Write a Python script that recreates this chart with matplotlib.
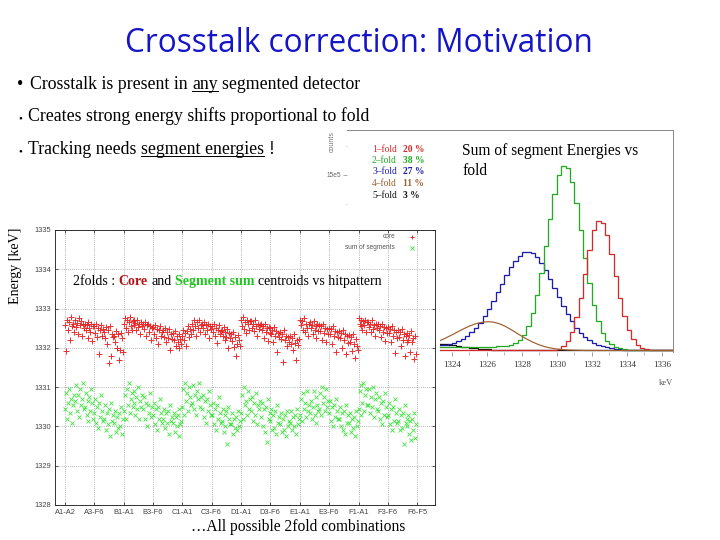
import numpy as np
import matplotlib
matplotlib.use("Agg")
import matplotlib.pyplot as plt
from matplotlib.patches import Rectangle
from matplotlib.lines import Line2D
from matplotlib.ticker import FixedLocator, MultipleLocator

# ---------------- data: histogram (sum of segment energies per fold) ----------------
bin_width = 0.25  # keV
fold_labels = ["1\u2013fold", "2\u2013fold", "3\u2013fold", "4\u2013fold", "5\u2013fold"]
fold_pct = ["20 %", "38 %", "27 %", "11 %", "3 %"]
fold_colors = ["#d42a2a", "#22aa22", "#1c1ca8", "#a0602e", "#111111"]
fold_start = [1329.0, 1323.0, 1320.0, 1320.0, 1318.5]   # lower edge of first listed bin (keV)
fold1_k = [0.02, 0.07, 0.2, 0.6, 1.6, 3.9, 8.3, 16.0, 28.3, 45.2, 65.5, 86.1, 102.7, 111.0,
           109.3, 99.0, 82.5, 63.3, 44.8, 29.2, 17.5, 9.6, 4.9, 2.3, 1.0, 0.4, 0.15]
fold2_k = [2.6, 2.8, 2.9, 3.0, 3.2, 3.3, 3.3, 3.4, 3.4, 3.4, 3.4, 3.4, 3.4, 3.4, 3.5, 3.6,
           4.0, 4.7, 6.1, 8.8, 13.5, 21.0, 32.0, 47.0, 66.5, 89.0, 112.5, 134.0, 150.0, 157.5,
           155.6, 144.4, 125.8, 103.0, 79.2, 57.3, 38.9, 24.8, 14.8, 8.4, 5.2, 3.0, 1.8, 1.1,
           0.8, 0.6, 0.4, 0.3, 0.2]
fold3_k = [1.2, 1.4, 1.6, 1.8, 2.0, 2.2, 2.4, 2.6, 2.8, 3.0, 3.2, 3.4, 3.9, 4.3, 4.9, 5.6,
           6.6, 8.0, 9.8, 12.3, 15.4, 19.2, 23.8, 29.3, 35.5, 42.4, 49.8, 57.2, 64.5, 71.2,
           76.8, 81.1, 83.8, 84.5, 83.3, 80.1, 75.1, 68.8, 61.5, 53.7, 45.7, 38.0, 31.0, 24.8,
           19.5, 15.0, 11.5, 8.8, 6.6, 5.0, 3.8, 2.9, 2.1, 1.5, 1.0, 0.6, 0.3, 0.1]
fold4_k = [0.17, 0.27, 0.39, 0.56, 0.8, 1.1, 1.5, 2.1, 2.8, 3.6, 4.6, 5.8, 7.2, 8.8, 10.5,
           12.4, 14.3, 16.3, 18.2, 20.0, 21.6, 22.9, 23.8, 24.4, 24.6, 24.2, 23.3, 21.9, 20.0,
           17.9, 15.6, 13.3, 11.0, 9.0, 7.1, 5.5, 4.1, 3.0, 2.2, 1.5, 1.0, 0.7, 0.45, 0.3,
           0.2, 0.1]
fold5_k = [1.8, 2.2, 2.7, 3.2, 3.7, 4.3, 4.8, 5.4, 5.9, 6.4, 6.8, 7.1, 7.4, 7.5, 7.5, 7.4,
           7.1, 6.8, 6.4, 5.9, 5.4, 4.8, 4.3, 3.7, 3.2, 2.7, 2.2, 1.8, 1.4, 1.1, 0.9, 0.7,
           0.5, 0.4, 0.3, 0.2, 0.1]
fold_counts_k = [fold1_k, fold2_k, fold3_k, fold4_k, fold5_k]
hist_xticks = [1318, 1320, 1322, 1324, 1326, 1328, 1330, 1332, 1334, 1336]

# ---------------- data: 2-fold centroids vs hit pattern ----------------
pair_ticks = [0, 104, 210, 314, 420, 524, 630, 734, 840, 944, 1050, 1154, 1259]
pair_labels = ["A1-A2", "A3-F6", "B1-A1", "B3-F6", "C1-A1", "C3-F6", "D1-A1",
               "D3-F6", "E1-A1", "E3-F6", "F1-A1", "F3-F6", "F6-F5"]
n_pairs = 1260
# core centroid: 1332 keV + value/100
core_hundredths = [
    58, -8, 72, 45, 65, 20, 78, 55, 62, 40,   70, 52, 64, 35, 75, 58, 68, 30, 60, 50,
    62, 45, 58, 25, 66, 50, 40, 60, 18, 55,   55, 38, 60, 28, 50, -15, 45, 58, 30, 48,
    40, 25, 52, 10, 45, -38, 55, -20, 35, 28, 30, 15, 42, 0, 35, -32, -5, 38, 25, -10,
    62, 75, 50, 70, 40, 66, 78, 55, 45, 68,   70, 58, 64, 45, 72, 52, 60, 35, 66, 55,
    60, 48, 65, 30, 58, 62, 40, 55, 20, 50,   52, 35, 58, 25, 48, 10, 45, 55, 30, 40,
    45, 28, 50, 15, 40, 25, 48, -5, 35, 22,   38, 20, 42, 5, 30, 15, 0, 35, 22, 10,
    30, 45, 20, 38, 5, 42, 55, 28, 48, 35,    62, 45, 70, 55, 30, 65, 50, 72, 40, 58,
    60, 50, 66, 35, 58, 45, 62, 25, 55, 48,   55, 40, 62, 30, 50, 12, 45, 58, 35, 42,
    45, 30, 52, 20, 40, 28, 48, 0, 38, 25,    35, 18, 40, 2, 28, -20, 10, 32, 20, 5,
    70, 55, 78, 48, 65, 38, 72, 60, 45, 68,   68, 50, 62, 42, 70, 55, 30, 60, 48, 58,
    60, 45, 55, 25, 62, 40, 50, 18, 52, 38,   50, 35, 45, 15, 52, 30, 42, -10, 38, 28,
    40, 22, 35, -35, 45, 20, 30, 5, 28, 15,   30, 10, 25, -5, 35, 12, -32, 20, 8, 22,
    72, 58, 68, 45, 75, 40, 62, 50, 30, 60,   65, 50, 58, 35, 68, 45, 55, 25, 60, 42,
    58, 42, 55, 20, 62, 38, 50, 15, 48, 35,   50, 35, 48, 10, 55, 30, 42, -10, 40, 28,
    42, 25, 38, 0, 45, 20, 35, -15, 30, 12,   32, 15, 28, -8, 35, 10, -25, 22, 5, -5,
    75, 62, 70, 55, 45, 68, 58, 72, 40, 65,   66, 52, 60, 40, 70, 48, 58, 30, 62, 50,
    60, 45, 55, 28, 62, 40, 52, 18, 50, 38,   52, 38, 48, 15, 55, 30, 45, -12, 40, 25,
    45, 28, 40, 5, 48, 20, 35, -20, 30, 15,   38, 20, 32, -10, 42, 15, 25, -28, 30, -15,
]
# sum of segments centroid: 1330 keV + value/100
sum_hundredths = [
    45, 85, 20, 60, 95, 35, 70, 10, 55, 80,   65, 105, 40, 80, 25, 95, 55, 70, 110, 45,
    50, 85, 30, 65, 15, 75, 40, 95, 60, 20,   35, 70, 10, 50, -5, 60, 25, 80, 40, 15,
    20, 55, -10, 35, 5, 45, -25, 60, 15, 30,  10, 40, -15, 25, -5, 35, 0, 50, -20, 20,
    40, 80, 20, 95, 55, 110, 35, 70, 85, 50,  60, 90, 30, 75, 45, 100, 20, 65, 50, 80,
    45, 75, 20, 60, 0, 55, 35, 85, 25, 50,    30, 60, 5, 45, -10, 50, 20, 70, 35, 10,
    20, 45, -5, 35, 10, 40, -20, 55, 15, 25,  10, 35, -15, 25, 0, 30, -25, 45, 5, 15,
    50, 95, 30, 110, 65, 85, 40, 100, 75, 55, 60, 105, 45, 80, 30, 90, 70, 110, 50, 75,
    45, 80, 25, 65, 10, 70, 40, 90, 55, 30,   30, 60, 5, 45, -10, 55, 20, 75, 35, 10,
    15, 45, -15, 30, 0, 40, -45, 50, 20, 5,   5, 35, -20, 20, -5, 25, -10, 40, 0, 15,
    35, 80, 20, 100, 55, 65, 30, 90, 45, 70,  40, 75, 15, 60, 30, 85, 5, 55, 45, 65,
    25, 60, 0, 45, -15, 50, -40, 70, 20, 35,  15, 45, -10, 30, -5, 40, -20, 55, 10, 25,
    5, 35, -15, 20, -8, 30, -25, 40, 0, 15,   10, 40, -10, 25, 0, 30, -20, 45, 5, 20,
    30, 70, 15, 85, 45, 60, 25, 90, 40, 55,   35, 65, 20, 50, 90, 30, 75, 10, 55, 40,
    45, 85, 30, 100, 60, 75, 40, 95, 50, 65,  35, 65, 15, 50, 0, 55, 25, 70, 40, 20,
    20, 50, 0, 35, -10, 40, -20, 55, 10, 30,  10, 35, -15, 20, -5, 25, -25, 40, 0, 15,
    45, 90, 30, 105, 60, 110, 40, 80, 95, 55, 55, 95, 35, 75, 50, 100, 25, 70, 85, 45,
    40, 75, 20, 60, 5, 65, 30, 85, 50, 25,    30, 60, 5, 45, -10, 50, 15, 70, 35, 10,
    15, 45, -10, 30, -5, 35, -45, 55, 10, 20, 0, 30, -20, 15, -35, 20, -10, 35, -30, 5,
]

title = "Crosstalk correction: Motivation"

# ---------------- figure ----------------
W, H = 720, 540
fig = plt.figure(figsize=(W / 72, H / 72), dpi=72)
fig.patch.set_facecolor("white")
SERIF = "Liberation Serif"
SANS = "Liberation Sans"


def fx(px):
    return px / W


def fy(py):
    return 1 - py / H


renderer = fig.canvas.get_renderer()


def write_runs(x_px, y_px, parts, size, family=SERIF, zorder=5):
    """Write word runs left to right, separated by one space; optional underline."""
    probe1 = fig.text(0, 0, "x x", fontsize=size, family=family)
    probe2 = fig.text(0, 0, "xx", fontsize=size, family=family)
    sp = probe1.get_window_extent(renderer).width - probe2.get_window_extent(renderer).width
    probe1.remove(); probe2.remove()
    x = x_px
    for text, kw in parts:
        kw = dict(kw)
        ul = kw.pop("underline", False)
        t = fig.text(fx(x), fy(y_px), text, fontsize=size, family=family,
                     va="baseline", ha="left", zorder=zorder, **kw)
        bb = t.get_window_extent(renderer)
        if ul:
            uy = fy(y_px + size * 0.12)
            fig.add_artist(Line2D([bb.x0 / W, bb.x1 / W], [uy, uy],
                                  color=kw.get("color", "black"), lw=1.0, zorder=zorder))
        x += bb.width + sp


# title
fig.text(fx(359), fy(52), title, fontsize=31.5, family="Open Sans", color="#1414c8",
         ha="center", va="baseline")

# bullets
fig.text(fx(17), fy(89), "\u2022", fontsize=18, family=SERIF, va="baseline")
write_runs(30, 89, [("Crosstalk is present in", {}), ("any", {"underline": True}),
                    ("segmented detector", {})], 17.8)
fig.text(fx(18), fy(121), "\u2022", fontsize=11, family=SERIF, va="baseline")
write_runs(28, 121, [("Creates strong energy shifts proportional to fold", {})], 17.8)
fig.text(fx(18), fy(154), "\u2022", fontsize=11, family=SERIF, va="baseline")
write_runs(28, 154, [("Tracking needs", {}), ("segment energies", {"underline": True}),
                     ("!", {})], 17.8)

# ---------------- histogram panel ----------------
ax1 = fig.add_axes([fx(347), fy(352), (673 - 347) / W, (352 - 130) / H])
ax1.set_zorder(1)
lo, hi = 1318.5, 1336.75
nb = int(round((hi - lo) / bin_width))
edges = lo + bin_width * np.arange(nb + 1)
order = [4, 3, 2, 1, 0]
for i in order:
    vals = np.zeros(nb)
    i0 = int(round((fold_start[i] - lo) / bin_width))
    v = np.asarray(fold_counts_k[i]) * 1000.0
    vals[i0:i0 + len(v)] = v
    if i == 3:
        centers = edges[:-1] + bin_width / 2
        ax1.plot(centers, vals, color=fold_colors[i], lw=1.2)
    else:
        ax1.stairs(vals, edges, color=fold_colors[i], lw=1.3, baseline=None)
ax1.set_xlim(1318.48, 1336.64)
ax1.set_ylim(-1300, 188460)
for s in ["left", "bottom"]:
    ax1.spines[s].set_visible(False)
for s in ["top", "right"]:
    ax1.spines[s].set_color("#8a8a8a")
    ax1.spines[s].set_linewidth(1.0)
ax1.set_xticks(hist_xticks)
ax1.set_xticklabels([str(t) for t in hist_xticks], family=SERIF, fontsize=9, color="#333333")
ax1.xaxis.set_minor_locator(MultipleLocator(1))
ax1.tick_params(axis="x", which="both", direction="out", color="#888888", pad=5)
ax1.tick_params(axis="x", which="major", length=4)
ax1.tick_params(axis="x", which="minor", length=3)
ax1.set_yticks([150000])
ax1.set_yticklabels(["15e5"], fontsize=6.5, color="#666666", family=SANS)
ax1.yaxis.set_minor_locator(FixedLocator([125000, 175000]))
ax1.tick_params(axis="y", which="both", direction="out", color="#999999", pad=2)
ax1.tick_params(axis="y", which="major", length=4)
ax1.tick_params(axis="y", which="minor", length=1.5)
ax1.patch.set_alpha(0)

fig.text(fx(332), fy(142), "counts", rotation=90, fontsize=7, color="#777777",
         family=SANS, ha="center", va="center")
fig.text(fx(673), fy(383), "keV", fontsize=8.5, color="#555555", family=SERIF,
         ha="right", va="center")
leg_y = [149, 160.5, 172, 184, 195.5]
for i in range(5):
    fig.text(fx(372), fy(leg_y[i]), fold_labels[i], fontsize=9.5, family=SERIF,
             color=fold_colors[i], va="center", ha="left")
    fig.text(fx(403), fy(leg_y[i]), fold_pct[i], fontsize=9.5, family=SERIF,
             color=fold_colors[i], va="center", ha="left", weight="bold")
fig.text(fx(462), fy(155), "Sum of segment Energies vs", fontsize=15.5, family=SERIF,
         va="baseline", ha="left")
fig.text(fx(462), fy(175), "fold", fontsize=15.5, family=SERIF, va="baseline", ha="left")

# white sheet of the overlaid scatter picture
fig.add_artist(Rectangle((0, 0), fx(440), (540 - 218) / H, transform=fig.transFigure,
                         facecolor="white", edgecolor="none", zorder=1.5))

# ---------------- scatter panel ----------------
ax2 = fig.add_axes([fx(55), fy(505), 380 / W, 275 / H])
ax2.set_zorder(2)
xs = np.arange(len(core_hundredths)) * (n_pairs / len(core_hundredths))
core = 1332.0 + np.asarray(core_hundredths) / 100.0
ssum = 1330.0 + np.asarray(sum_hundredths) / 100.0
ax2.plot(xs, ssum, "x", color="#2ee02e", ms=4.8, mew=0.85, alpha=0.9, zorder=3)
ax2.plot(xs, core, "+", color="#e82020", ms=5.6, mew=1.0, alpha=0.9, zorder=3)
ax2.set_xlim(-35.8, 1323.4)
ax2.set_ylim(1328, 1335)
ax2.set_xticks(pair_ticks)
ax2.set_xticklabels(pair_labels, fontsize=7.5, color="#444444", family=SANS)
ax2.set_yticks(range(1328, 1336))
ax2.set_yticklabels([str(v) for v in range(1328, 1336)], fontsize=7.5, color="#444444",
                    family=SANS)
ax2.grid(True, linestyle=(0, (1, 2)), color="#777777", lw=0.7)
ax2.tick_params(direction="in", length=3, top=True, right=True, pad=4, color="#333333")
for s in ax2.spines.values():
    s.set_linewidth(0.9)
    s.set_color("#222222")

# legend inside
ax2.text((395 - 55) / 380, (505 - 237) / 275, "core", transform=ax2.transAxes,
         fontsize=6.5, color="#555555", family=SANS, ha="right", va="center")
ax2.text((395 - 55) / 380, (505 - 247.5) / 275, "sum of segments", transform=ax2.transAxes,
         fontsize=6.5, color="#555555", family=SANS, ha="right", va="center")
ax2.plot([(411.7 - 55) / 380], [(505 - 237) / 275], "+", transform=ax2.transAxes,
         color="#e82020", ms=4.5, mew=0.9)
ax2.plot([(411.7 - 55) / 380], [(505 - 247.5) / 275], "x", transform=ax2.transAxes,
         color="#2ee02e", ms=3.8, mew=0.8)

# overlay texts
write_runs(73, 285, [("2folds :", {}), ("Core", {"color": "#b81414", "weight": "bold"}),
                     ("and", {}), ("Segment sum", {"color": "#22c422", "weight": "bold"}),
                     ("centroids vs hitpattern", {})], 13.9)
fig.text(fx(16), fy(266), "Energy [keV]", rotation=90, fontsize=14, family=SERIF,
         ha="center", va="center")
fig.text(fx(298), fy(527), "\u2026All possible 2fold combinations", fontsize=15.5,
         family=SERIF, ha="center", va="center")

fig.savefig("out.png", dpi=72, facecolor="white")
